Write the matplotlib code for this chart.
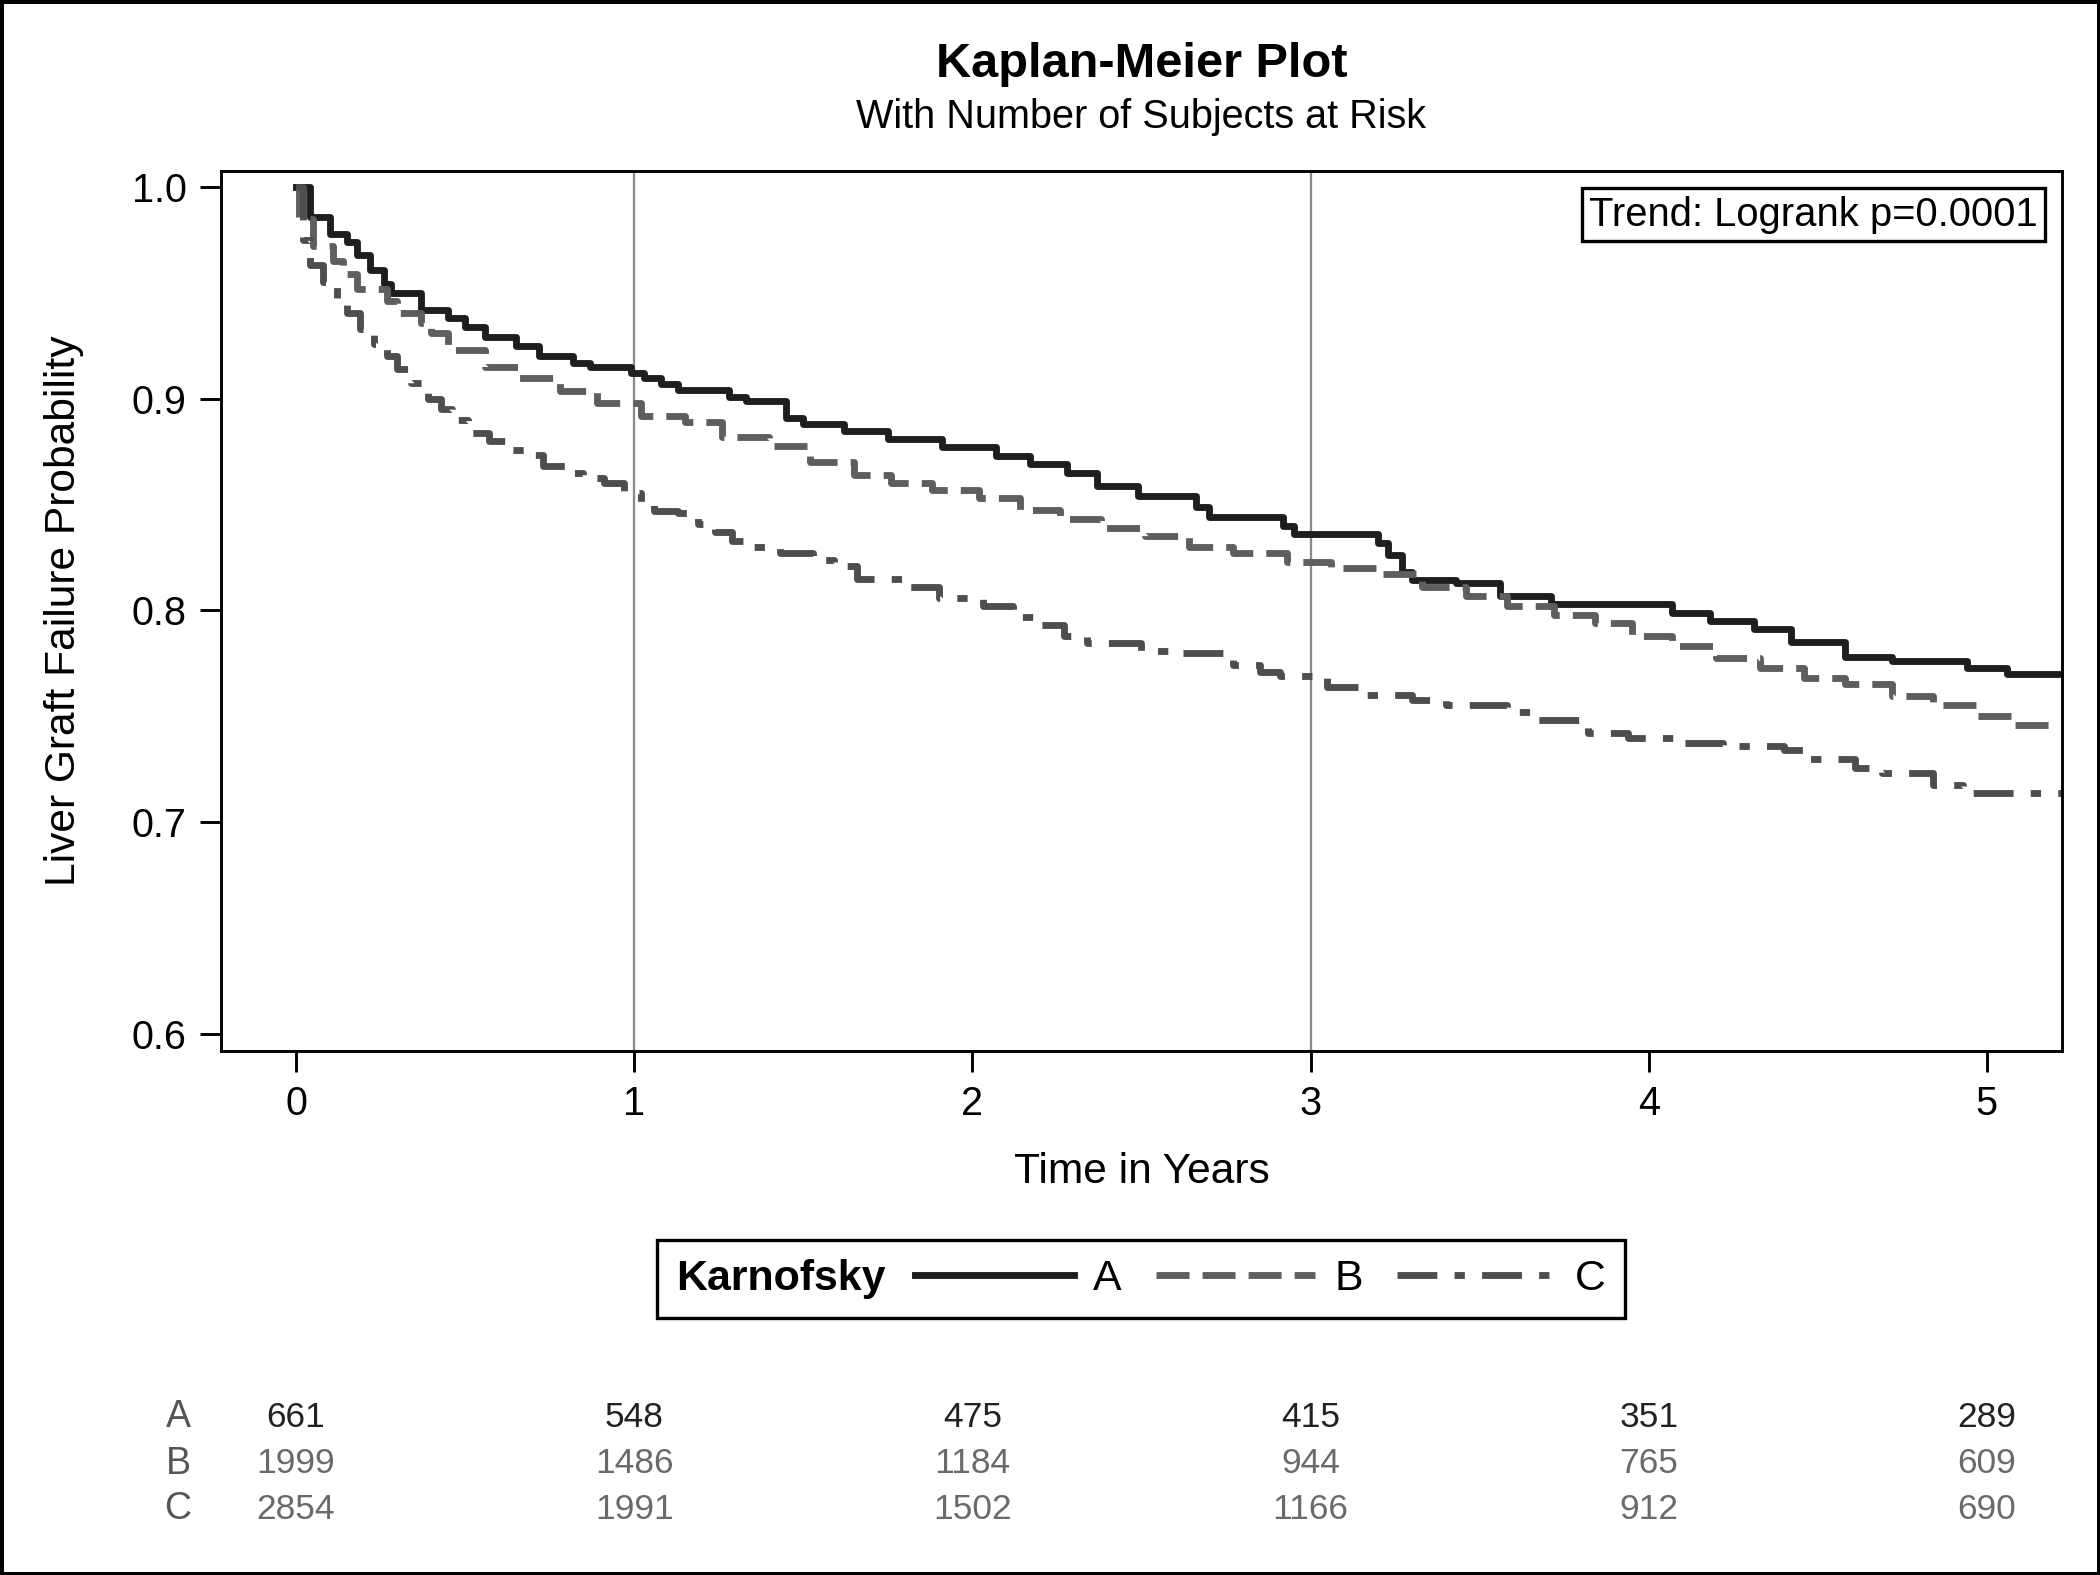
import numpy as np
import matplotlib
matplotlib.use('Agg')
import matplotlib.pyplot as plt
import matplotlib.transforms as mtransforms
from matplotlib.offsetbox import HPacker

plt.rcParams['font.family'] = ['Liberation Sans', 'DejaVu Sans']

groups = ['A', 'B', 'C']

time_a = [0, 0.04, 0.10, 0.15, 0.18, 0.22, 0.26, 0.28, 0.37, 0.45, 0.50, 0.56, 0.65, 0.72, 0.82, 0.87, 0.99,
          1.03, 1.08, 1.13, 1.28, 1.33, 1.45, 1.50, 1.62, 1.75, 1.91, 2.07, 2.17, 2.28, 2.37, 2.49, 2.66, 2.70,
          2.92, 2.95, 3.20, 3.23, 3.27, 3.30, 3.43, 3.56, 3.71, 4.07, 4.18, 4.31, 4.42, 4.58, 4.72, 4.94, 5.06, 5.25]
surv_a = [1.0, 0.986, 0.978, 0.974, 0.968, 0.961, 0.954, 0.950, 0.942, 0.938, 0.934, 0.929, 0.925, 0.920, 0.917,
          0.915, 0.912, 0.910, 0.907, 0.904, 0.901, 0.899, 0.891, 0.888, 0.885, 0.881, 0.877, 0.873, 0.869, 0.865,
          0.859, 0.854, 0.849, 0.844, 0.840, 0.836, 0.832, 0.826, 0.818, 0.8145, 0.813, 0.807, 0.803, 0.799, 0.795,
          0.791, 0.785, 0.778, 0.776, 0.773, 0.770, 0.770]

time_b = [0, 0.01, 0.05, 0.11, 0.14, 0.18, 0.27, 0.30, 0.37, 0.40, 0.45, 0.56, 0.66, 0.78, 0.89, 1.02, 1.15, 1.26,
          1.40, 1.52, 1.65, 1.76, 1.88, 2.02, 2.14, 2.26, 2.38, 2.51, 2.64, 2.77, 2.93, 3.06, 3.20, 3.33, 3.46, 3.58,
          3.72, 3.84, 3.95, 4.07, 4.20, 4.33, 4.46, 4.58, 4.72, 4.84, 4.97, 5.08, 5.25]
surv_b = [1.0, 0.985, 0.972, 0.965, 0.959, 0.952, 0.946, 0.9405, 0.936, 0.931, 0.923, 0.915, 0.910, 0.9035, 0.898,
          0.892, 0.889, 0.882, 0.8775, 0.870, 0.864, 0.860, 0.857, 0.853, 0.8476, 0.843, 0.839, 0.835, 0.830, 0.827,
          0.823, 0.820, 0.817, 0.811, 0.8066, 0.802, 0.798, 0.794, 0.7877, 0.783, 0.7775, 0.7728, 0.768, 0.765,
          0.7594, 0.7555, 0.750, 0.746, 0.746]

time_c = [0, 0.02, 0.04, 0.08, 0.12, 0.15, 0.19, 0.23, 0.27, 0.30, 0.34, 0.39, 0.43, 0.46, 0.51, 0.57, 0.63, 0.68,
          0.73, 0.80, 0.85, 0.91, 0.97, 1.02, 1.06, 1.13, 1.19, 1.24, 1.29, 1.35, 1.43, 1.53, 1.59, 1.66, 1.81, 1.90,
          2.03, 2.12, 2.20, 2.27, 2.34, 2.50, 2.60, 2.77, 2.85, 2.91, 3.05, 3.14, 3.30, 3.40, 3.58, 3.67, 3.82, 3.94,
          4.09, 4.22, 4.40, 4.46, 4.61, 4.69, 4.84, 4.93, 5.25]
surv_c = [1.0, 0.975, 0.963, 0.955, 0.947, 0.9405, 0.933, 0.926, 0.920, 0.914, 0.9075, 0.900, 0.895, 0.890, 0.884,
          0.880, 0.876, 0.8736, 0.868, 0.865, 0.8626, 0.860, 0.8555, 0.851, 0.847, 0.846, 0.841, 0.837, 0.833, 0.830,
          0.827, 0.824, 0.821, 0.815, 0.811, 0.806, 0.802, 0.797, 0.793, 0.788, 0.7846, 0.781, 0.780, 0.774, 0.771,
          0.7688, 0.764, 0.760, 0.7578, 0.7555, 0.752, 0.7483, 0.742, 0.7397, 0.7373, 0.7357, 0.734, 0.730, 0.7255,
          0.723, 0.7176, 0.7137, 0.7137]

risk_times = [0, 1, 2, 3, 4, 5]
risk_a = [661, 548, 475, 415, 351, 289]
risk_b = [1999, 1486, 1184, 944, 765, 609]
risk_c = [2854, 1991, 1502, 1166, 912, 690]

ref_lines = [1, 3]
y_ticks = [0.6, 0.7, 0.8, 0.9, 1.0]


fig = plt.figure(figsize=(7, 5.25), dpi=300, linewidth=1.6, edgecolor='black')
ax = fig.add_axes([0.1052, 0.3327, 0.8767, 0.5587])

for xr in ref_lines:
    ax.axvline(xr, color='#8a8a8a', lw=0.55, zorder=0)

la, = ax.step(time_a, surv_a, where='post', color='#1e1e1e', lw=1.65, label='A')
lb, = ax.step(time_b, surv_b, where='post', color='#5e5e5e', lw=1.65, dashes=(4.8, 1.9), label='B')
lc, = ax.step(time_c, surv_c, where='post', color='#4e4e4e', lw=1.65, dashes=(5.8, 2.5, 1.5, 2.5), label='C')

ax.set_xlim(-0.222, 5.222)
ax.set_ylim(0.5918, 1.0076)
ax.set_xticks(risk_times)
ax.set_yticks(y_ticks)
ax.set_yticklabels(['%.1f' % v for v in y_ticks])
ax.tick_params(direction='out', length=5, width=0.7, labelsize=9.5, pad=3.2)
for s in ax.spines.values():
    s.set_linewidth(0.7)

ax.set_xlabel('Time in Years', fontsize=10.2)
ax.xaxis.set_label_coords(0.5, -0.137)
ax.xaxis.label.set_va('center')
ax.set_ylabel('Liver Graft Failure Probability', fontsize=10.2)
ax.yaxis.set_label_coords(-0.0853, 0.5)
ax.yaxis.label.set_va('center')

fig.text(0.5435, 0.959, 'Kaplan-Meier Plot', ha='center', va='center', fontsize=11.7, fontweight='bold')
fig.text(0.5435, 0.926, 'With Number of Subjects at Risk', ha='center', va='center', fontsize=9.5)

ax.text(0.987, 0.972, 'Trend: Logrank p=0.0001', transform=ax.transAxes, ha='right', va='top', fontsize=9.6,
        bbox=dict(boxstyle='square,pad=0.18', fc='white', ec='black', lw=0.8))

# legend with the title on the left side
leg = fig.legend(handles=[la, lb, lc], labels=groups, ncol=3, title='Karnofsky', loc='center',
                 bbox_to_anchor=(0.5435, 0.188), fontsize=10.3,
                 title_fontproperties={'weight': 'bold', 'size': 10.3},
                 handlelength=3.7, handletextpad=0.45, columnspacing=0.8, borderpad=0.45,
                 frameon=True, fancybox=False, edgecolor='black', framealpha=1)
leg.get_frame().set_linewidth(0.8)
box = HPacker(pad=leg.borderpad * leg._fontsize, sep=7, align='center',
              children=[leg._legend_title_box, leg._legend_handle_box])
box.set_figure(fig)
box.axes = leg.axes
leg._legend_box = box
box.set_offset(leg._findoffset)

# number at risk table
trans = mtransforms.blended_transform_factory(ax.transData, fig.transFigure)
rows = [(risk_a, 0.1003, '#222222'), (risk_b, 0.0707, '#6a6a6a'), (risk_c, 0.0419, '#6a6a6a')]
for (vals, yy, col), g in zip(rows, groups):
    fig.text(0.0848, yy, g, ha='center', va='center', fontsize=9, color='#555555')
    for t, n in zip(risk_times, vals):
        fig.text(t, yy, str(n), transform=trans, ha='center', va='center', fontsize=8.5, color=col)

fig.savefig('out.png', dpi=300)
